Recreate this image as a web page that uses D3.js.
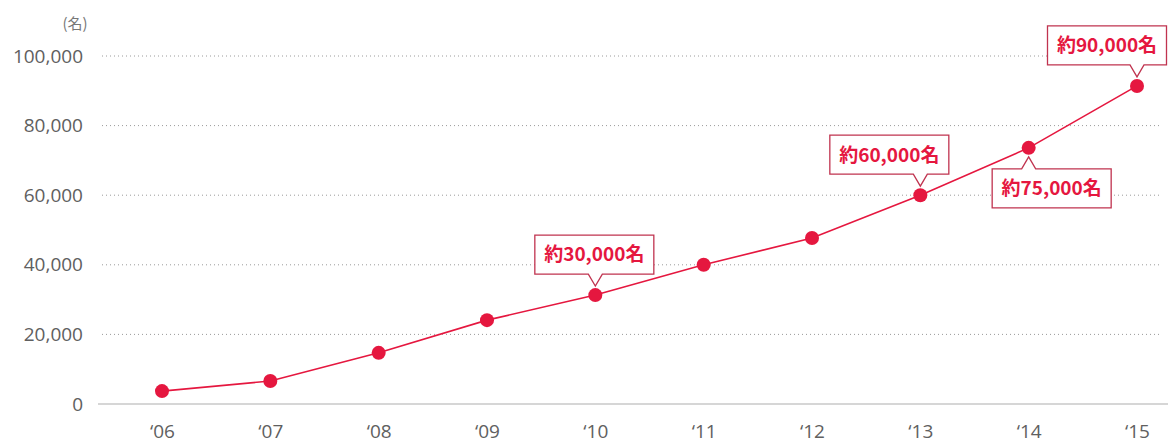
<!DOCTYPE html>
<html>
<head>
<meta charset="utf-8">
<script src="https://cdn.jsdelivr.net/npm/d3@7"></script>
<style>
  body { margin: 0; background: #fff; }
  svg { display: block; }
  text { font-family: "Noto Sans CJK JP", "Noto Sans", sans-serif; }
</style>
</head>
<body>
<div id="chart"></div>
<script>
var years = ["‘06", "‘07", "‘08", "‘09", "‘10", "‘11", "‘12", "‘13", "‘14", "‘15"];
var members = [3700, 6600, 14700, 24100, 31300, 40000, 47700, 60000, 73600, 91400];
var yTicks = [0, 20000, 40000, 60000, 80000, 100000];

// callouts: which year, label, box side, pointer shift inside box
var calloutYears = ["‘10", "‘13", "‘14", "‘15"];
var calloutLabels = ["約30,000名", "約60,000名", "約75,000名", "約90,000名"];
var calloutPlace = ["above", "above", "below", "above"];
var calloutShift = [-1, -31, 23, -30];

var width = 1168, height = 443;
var red = "#e5173f", boxRed = "#c0334f";

var svg = d3.select("#chart").append("svg")
    .attr("width", width)
    .attr("height", height);

var x = d3.scalePoint().domain(years).range([162, 1137]);
var y = d3.scaleLinear().domain([0, 100000]).range([404, 56]);

// grid lines
svg.append("g")
    .selectAll("line")
    .data(yTicks.filter(function(d) { return d > 0; }))
    .join("line")
    .attr("x1", 102).attr("x2", 1162)
    .attr("y1", function(d) { return y(d); })
    .attr("y2", function(d) { return y(d); })
    .attr("stroke", "#9a9a9a")
    .attr("stroke-width", 1)
    .attr("stroke-dasharray", "1,3");

// baseline
svg.append("line")
    .attr("x1", 98).attr("x2", 1168)
    .attr("y1", y(0)).attr("y2", y(0))
    .attr("stroke", "#c8c8c8")
    .attr("stroke-width", 1.5);

// y labels
var yAxis = d3.axisLeft(y).tickValues(yTicks).tickSize(0).tickPadding(0)
    .tickFormat(d3.format(","));
var gy = svg.append("g").attr("transform", "translate(83,0)").call(yAxis);
gy.select(".domain").remove();
gy.selectAll("text")
    .attr("fill", "#606060")
    .style("font-size", "19px")
    .style("font-family", "'Open Sans', 'Noto Sans', sans-serif");

svg.append("text")
    .attr("x", 75).attr("y", 24)
    .attr("dy", "0.36em")
    .attr("text-anchor", "middle")
    .attr("fill", "#777")
    .style("font-size", "15px")
    .text("(名)");

// x labels
var xAxis = d3.axisBottom(x).tickSize(0).tickPadding(0);
var gx = svg.append("g").attr("transform", "translate(0,424)").call(xAxis);
gx.select(".domain").remove();
gx.selectAll("text")
    .attr("fill", "#606060")
    .style("font-size", "19px")
    .style("font-family", "'Open Sans', 'Noto Sans', sans-serif");

// line
var line = d3.line()
    .x(function(d, i) { return x(years[i]); })
    .y(function(d) { return y(d); });

svg.append("path")
    .datum(members)
    .attr("d", line)
    .attr("fill", "none")
    .attr("stroke", red)
    .attr("stroke-width", 1.6);

svg.append("g")
    .selectAll("circle")
    .data(members)
    .join("circle")
    .attr("cx", function(d, i) { return x(years[i]); })
    .attr("cy", function(d) { return y(d); })
    .attr("r", 7)
    .attr("fill", red);

// callouts
var boxW = 119, boxH = 39, gap = 9, tip = 12;
calloutYears.forEach(function(yr, k) {
  var idx = years.indexOf(yr);
  var px = x(yr), py = y(members[idx]);
  var cx = px + calloutShift[k];
  var left = cx - boxW / 2, right = cx + boxW / 2;
  var path, ty;
  if (calloutPlace[k] == "above") {
    var bottom = py - gap, top = bottom - tip - boxH, base = bottom - tip;
    path = "M" + left + "," + top + "H" + right + "V" + base +
      "H" + (px + 7) + "L" + px + "," + bottom + "L" + (px - 7) + "," + base +
      "H" + left + "Z";
    ty = top + boxH / 2;
  } else {
    var topT = py + gap, base2 = topT + tip, bot = base2 + boxH;
    path = "M" + left + "," + base2 + "H" + (px - 7) + "L" + px + "," + topT +
      "L" + (px + 7) + "," + base2 + "H" + right + "V" + bot + "H" + left + "Z";
    ty = base2 + boxH / 2;
  }
  svg.append("path")
    .attr("d", path)
    .attr("fill", "#fff")
    .attr("stroke", boxRed)
    .attr("stroke-width", 1.3);
  svg.append("text")
    .attr("x", cx).attr("y", ty)
    .attr("dy", "0.36em")
    .attr("text-anchor", "middle")
    .attr("fill", red)
    .style("font-size", "19px")
    .style("font-weight", "bold")
    .text(calloutLabels[k]);
});
</script>
</body>
</html>
